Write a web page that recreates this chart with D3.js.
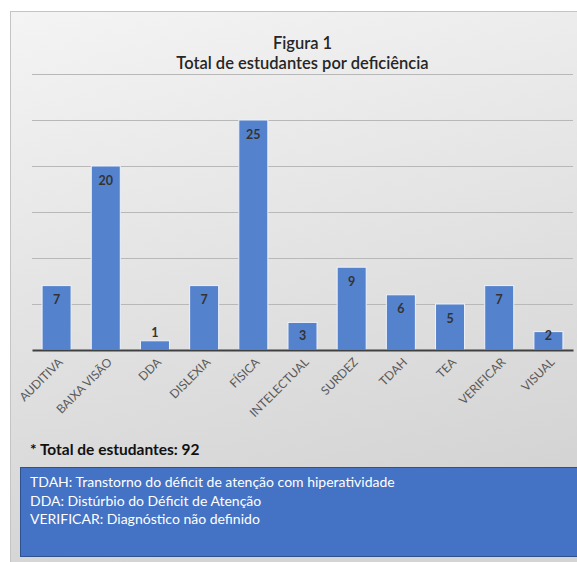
<!DOCTYPE html>
<html>
<head>
<meta charset="utf-8">
<script src="https://cdn.jsdelivr.net/npm/d3@7"></script>
<style>
  body { margin: 0; background: #fff; }
  svg { display: block; font-family: Lato, "Open Sans", sans-serif; }
</style>
</head>
<body>
<div id="chart"></div>
<script>
"use strict";

const categories = ["AUDITIVA", "BAIXA VISÃO", "DDA", "DISLEXIA", "FÍSICA", "INTELECTUAL",
    "SURDEZ", "TDAH", "TEA", "VERIFICAR", "VISUAL"];
const values = [7, 20, 1, 7, 25, 3, 9, 6, 5, 7, 2];
const yTicks = [0, 5, 10, 15, 20, 25, 30];
const titleLines = ["Figura 1", "Total de estudantes por deficiência"];
const totalText = "* Total de estudantes: 92";
const notes = [
    "TDAH: Transtorno do déficit de atenção com hiperatividade",
    "DDA: Distúrbio do Déficit de Atenção",
    "VERIFICAR: Diagnóstico não definido",
];

const W = 577, H = 562;
const PLOT = { left: 32, right: 573, top: 74, bottom: 350 };

let svg = d3.select("#chart").append("svg")
    .attr("width", W)
    .attr("height", H);

let grad = svg.append("defs").append("linearGradient")
    .attr("id", "bg")
    .attr("x1", 0).attr("y1", 0)
    .attr("x2", 0.25).attr("y2", 1);
grad.append("stop").attr("offset", "0%").attr("stop-color", "#f4f4f4");
grad.append("stop").attr("offset", "100%").attr("stop-color", "#d4d4d4");

// chart frame
svg.append("rect")
    .attr("x", 10.5).attr("y", 11.5)
    .attr("width", W - 10).attr("height", H - 11)
    .attr("fill", "url(#bg)")
    .attr("stroke", "#c4c4c4");

let x = d3.scaleBand()
    .domain(categories)
    .range([PLOT.left, PLOT.right])
    .paddingInner(0.41)
    .paddingOuter(0.205);

let y = d3.scaleLinear()
    .domain([0, 30])
    .range([PLOT.bottom, PLOT.top]);

// gridlines
svg.append("g")
    .selectAll("line")
    .data(yTicks.slice(1))
    .join("line")
    .attr("x1", PLOT.left).attr("x2", PLOT.right)
    .attr("y1", d => Math.round(y(d)) + 0.5)
    .attr("y2", d => Math.round(y(d)) + 0.5)
    .attr("stroke", "#b8b8b8")
    .attr("stroke-width", 1);

// title
svg.append("g")
    .selectAll("text")
    .data(titleLines)
    .join("text")
    .attr("x", (PLOT.left + PLOT.right) / 2)
    .attr("y", (d, i) => 49 + i * 19.5)
    .attr("text-anchor", "middle")
    .attr("font-size", 16.5)
    .attr("font-weight", 600)
    .attr("fill", "#262626")
    .text(d => d);

// bars
svg.append("g")
    .selectAll("rect")
    .data(values)
    .join("rect")
    .attr("x", (d, i) => x(categories[i]))
    .attr("y", d => y(d))
    .attr("width", x.bandwidth())
    .attr("height", d => y(0) - y(d))
    .attr("fill", "#5582cc")
    .attr("stroke", "#eef2fa")
    .attr("stroke-width", 1);

// value labels (inside end, pushed above when the bar is too short)
svg.append("g")
    .selectAll("text")
    .data(values)
    .join("text")
    .attr("x", (d, i) => x(categories[i]) + x.bandwidth() / 2)
    .attr("y", d => (y(0) - y(d) < 14) ? y(d) - 4 : Math.min(y(d) + 18.5, y(0) - 10))
    .attr("text-anchor", "middle")
    .attr("font-size", 12.5)
    .attr("font-weight", 700)
    .attr("fill", "#333")
    .text(d => d);

// x axis
let xaxis = svg.append("g")
    .attr("transform", `translate(0,${PLOT.bottom})`)
    .call(d3.axisBottom(x).tickSize(0).tickPadding(0));
xaxis.select(".domain")
    .attr("stroke", "#404040")
    .attr("stroke-width", 2);
xaxis.selectAll("text")
    .attr("font-family", "Lato, 'Open Sans', sans-serif")
    .attr("font-size", 12)
    .attr("fill", "#595959")
    .attr("text-anchor", "end")
    .attr("dy", 0)
    .attr("transform", "translate(7,13) rotate(-45)");

// total
svg.append("text")
    .attr("x", 30).attr("y", 455)
    .attr("font-size", 15.5)
    .attr("font-weight", 700)
    .attr("fill", "#111")
    .text(totalText);

// notes box
svg.append("rect")
    .attr("x", 20.5).attr("y", 467.5)
    .attr("width", W - 20).attr("height", 89)
    .attr("fill", "#4472c4")
    .attr("stroke", "#2f528f");

svg.append("g")
    .selectAll("text")
    .data(notes)
    .join("text")
    .attr("x", 30)
    .attr("y", (d, i) => 487 + i * 18.5)
    .attr("font-size", 14)
    .attr("fill", "#fff")
    .text(d => d);
</script>
</body>
</html>
